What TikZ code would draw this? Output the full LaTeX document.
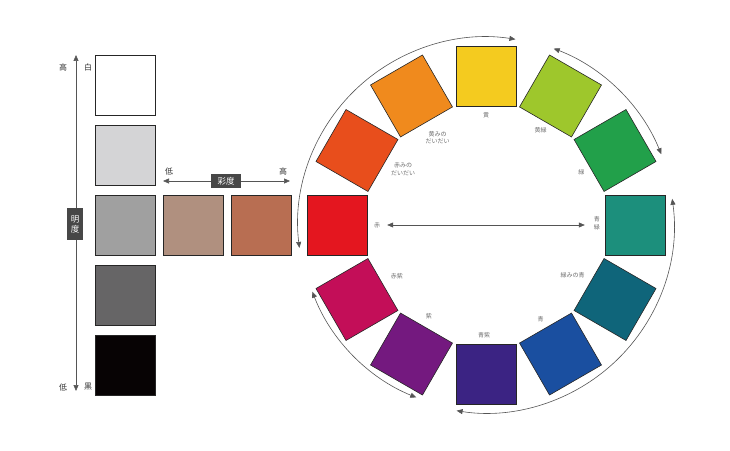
\documentclass[tikz,border=0pt]{standalone}
\usepackage{fontspec}
\setmainfont{Noto Sans CJK JP}
\usetikzlibrary{arrows.meta}
\definecolor{grayB}{HTML}{D4D4D6}
\definecolor{grayC}{HTML}{A0A0A0}
\definecolor{grayD}{HTML}{666566}
\definecolor{grayE}{HTML}{070304}
\definecolor{chromaA}{HTML}{B0907F}
\definecolor{chromaB}{HTML}{B86E52}
\definecolor{aka}{HTML}{E4161F}
\definecolor{akadai}{HTML}{E84E1C}
\definecolor{kidai}{HTML}{F08A1D}
\definecolor{ki}{HTML}{F4CB1F}
\definecolor{kimidori}{HTML}{9EC72C}
\definecolor{midori}{HTML}{22A04A}
\definecolor{aomidori}{HTML}{1C8F7C}
\definecolor{midoriao}{HTML}{0F657A}
\definecolor{ao}{HTML}{1A4FA0}
\definecolor{aomurasaki}{HTML}{3B2383}
\definecolor{murasaki}{HTML}{74197F}
\definecolor{akamurasaki}{HTML}{C30E58}
\definecolor{ink}{HTML}{555555}
\definecolor{soft}{HTML}{6E6E6E}
\tikzstyle{swatch}=[draw=black!85, line width=0.6pt, minimum size=60pt, inner sep=0pt]
\tikzstyle{lbl}=[text=soft, font=\fontsize{6}{7.5}\selectfont, align=center, inner sep=1pt]
\tikzstyle{axlbl}=[text=black!80, font=\fontsize{8}{9}\selectfont, inner sep=0pt]
\tikzstyle{tagbox}=[fill=black!72, text=white, font=\fontsize{8.5}{10}\selectfont, inner sep=0pt, align=center]
\tikzset{dbl/.style={{Triangle[length=6pt,width=5pt]}-{Triangle[length=6pt,width=5pt]}, draw=ink, line width=0.6pt}}

\begin{document}
\begin{tikzpicture}[x=1pt, y=1pt]
		\useasboundingbox (0,0) rectangle (730,450);
		% lightness scale
		\node[swatch, fill=white] (white) at (125,365) {};
		\node[swatch, fill=grayB] (light) at (125,295) {};
		\node[swatch, fill=grayC] (mid) at (125,225) {};
		\node[swatch, fill=grayD] (dark) at (125,155) {};
		\node[swatch, fill=grayE] (black) at (125,85) {};
		\coordinate (lighttop) at (76,395);
		\coordinate (lightbot) at (76,59);
		\draw[dbl] (lightbot) to (lighttop);
		\node[tagbox, minimum width=16pt, minimum height=32pt] (meido) at (75,226) {明\\度};
		\node[axlbl] (hi) at (63,383) {高};
		\node[axlbl] (shiro) at (88,383) {白};
		\node[axlbl] (lo) at (63,63) {低};
		\node[axlbl] (kuro) at (88,63) {黒};
		% chroma scale
		\node[swatch, fill=chromaA] (chlow) at (193,225) {};
		\node[swatch, fill=chromaB] (chhigh) at (261,225) {};
		\coordinate (chleft) at (163,269);
		\coordinate (chright) at (290,269);
		\draw[dbl] (chleft) to (chright);
		\node[tagbox, minimum width=30pt, minimum height=14pt] (saido) at (226,269) {彩度};
		\node[axlbl] (chlo) at (169,279) {低};
		\node[axlbl] (chhi) at (283,279) {高};
		% hue wheel
		\coordinate (c) at (486,225);
		\path (c) ++(180:149) node[swatch, fill=aka, rotate=180] (s-aka) {};
		\path (c) ++(150:149) node[swatch, fill=akadai, rotate=150] (s-akadai) {};
		\path (c) ++(120:149) node[swatch, fill=kidai, rotate=120] (s-kidai) {};
		\path (c) ++(90:149) node[swatch, fill=ki, rotate=90] (s-ki) {};
		\path (c) ++(60:149) node[swatch, fill=kimidori, rotate=60] (s-kimidori) {};
		\path (c) ++(30:149) node[swatch, fill=midori, rotate=30] (s-midori) {};
		\path (c) ++(0:149) node[swatch, fill=aomidori] (s-aomidori) {};
		\path (c) ++(-30:149) node[swatch, fill=midoriao, rotate=-30] (s-midoriao) {};
		\path (c) ++(-60:149) node[swatch, fill=ao, rotate=-60] (s-ao) {};
		\path (c) ++(-90:149) node[swatch, fill=aomurasaki, rotate=-90] (s-aomurasaki) {};
		\path (c) ++(-120:149) node[swatch, fill=murasaki, rotate=-120] (s-murasaki) {};
		\path (c) ++(-150:149) node[swatch, fill=akamurasaki, rotate=-150] (s-akamurasaki) {};
		\path (c) ++(180:109) node[lbl] (l-aka) {赤};
		\path (c) ++(146:100) node[lbl] (l-akadai) {赤みの\\だいだい};
		\path (c) ++(119:100) node[lbl] (l-kidai) {黄みの\\だいだい};
		\path (c) ++(90:110) node[lbl] (l-ki) {黄};
		\path (c) ++(60:109) node[lbl] (l-kimidori) {黄緑};
		\path (c) ++(29:109) node[lbl] (l-midori) {緑};
		\path (c) ++(1:111) node[lbl, font=\fontsize{6}{8.5}\selectfont] (l-aomidori) {青\\緑};
		\path (c) ++(-30:100) node[lbl] (l-midoriao) {緑みの青};
		\path (c) ++(-60:109) node[lbl] (l-ao) {青};
		\path (c) ++(-91:110) node[lbl] (l-aomurasaki) {青紫};
		\path (c) ++(-122:108) node[lbl] (l-murasaki) {紫};
		\path (c) ++(-150:103) node[lbl] (l-akamurasaki) {赤紫};
		\draw[dbl, shorten <=6pt, shorten >=8pt] (l-aka.east) to (l-aka.east -| l-aomidori.west);
		% hue groups
		\draw[dbl] (c) ++(187:188) arc[start angle=187, end angle=81, radius=188];
		\draw[dbl] (c) ++(69:189) arc[start angle=69, end angle=22, radius=189];
		\draw[dbl] (c) ++(8:188) arc[start angle=8, end angle=-99, radius=188];
		\draw[dbl] (c) ++(-159:186) arc[start angle=-159, end angle=-112, radius=186];
\end{tikzpicture}
\end{document}
